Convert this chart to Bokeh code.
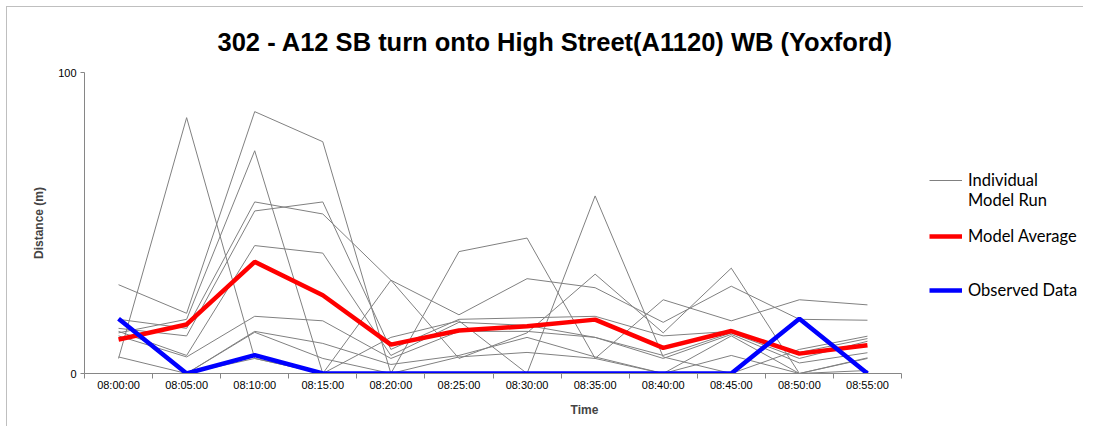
from bokeh.plotting import figure
from bokeh.models import Range1d, FixedTicker, Legend, LegendItem
from bokeh.embed import file_html
from bokeh.resources import INLINE

times = ["08:00:00", "08:05:00", "08:10:00", "08:15:00", "08:20:00", "08:25:00",
         "08:30:00", "08:35:00", "08:40:00", "08:45:00", "08:50:00", "08:55:00"]

run_01 = [29.5, 20, 87, 77, 0, 40.5, 45, 5, 24.5, 17.5, 24.5, 22.8]
run_02 = [5, 85, 5, 0, 31, 5, 13.5, 33, 13.5, 35, 0, 5]
run_03 = [13.5, 18, 74, 0, 12, 17.5, 0, 59, 5.5, 0, 8, 12.4]
run_04 = [18, 15, 57, 53, 31, 19.5, 31.5, 28.5, 17, 29, 18, 17.7]
run_05 = [15, 12.5, 54, 57, 8, 18, 18.5, 19, 12.5, 14, 7, 11.6]
run_06 = [14, 6, 42.5, 40, 6, 17, 16, 12, 6, 13.5, 5, 10.7]
run_07 = [12.5, 5.5, 19, 17.5, 5, 14, 14, 12, 5, 13, 3.5, 6.9]
run_08 = [5.5, 0, 14, 10, 3, 6, 12, 5.5, 0, 12.5, 0, 5.2]
run_09 = [0, 0, 13.7, 5, 0, 5.5, 7, 5, 0, 6, 0, 1]
run_10 = [0, 0, 5, 0, 0, 0, 0, 0, 0, 0, 0, 0]
model_average = [11.3, 16.3, 37.1, 26.0, 9.6, 14.3, 15.7, 17.9, 8.5, 14.1, 6.6, 9.4]
observed_data = [18.2, 0, 6.1, 0, 0, 0, 0, 0, 0, 0, 18.2, 0]

runs = [run_01, run_02, run_03, run_04, run_05, run_06, run_07, run_08, run_09, run_10]
n = len(times)
x = [i + 0.5 for i in range(n)]

# frame spans the legend area too; axis and grid are bounded to the 12 time bands
p = figure(width=1077, height=420,
           x_range=Range1d(0, n * 1000 / 817), y_range=Range1d(0, 100),
           output_backend="svg", toolbar_location=None,
           min_border_left=77, min_border_right=0,
           min_border_top=65, min_border_bottom=54,
           title="302 - A12 SB turn onto High Street(A1120) WB (Yoxford)")
p.styles = {"border-top": "1px solid #bfbfbf", "border-left": "1px solid #bfbfbf",
            "margin-top": "6px", "margin-left": "6px"}
p.outline_line_color = None
p.background_fill_color = "white"
p.border_fill_color = "white"

p.title.text_font = "Liberation Sans"
p.title.text_font_size = "25.5px"
p.title.text_font_style = "bold"
p.title.text_color = "black"
p.title.align = "left"
p.title.offset = 133
p.title.standoff = 34

grey_renderers = []
for r in runs:
    gr = p.line(x, r, line_color="#808080", line_width=1)
    grey_renderers.append(gr)
red = p.line(x, model_average, line_color="#ff0000", line_width=4.5)
blue = p.line(x, observed_data, line_color="#0000ff", line_width=4.5)
blank = p.line([], [], line_alpha=0)

# x axis
xa = p.xaxis[0]
xa.bounds = (0, n)
xa.ticker = FixedTicker(ticks=x, minor_ticks=list(range(n + 1)))
xa.major_label_overrides = {xi: t for xi, t in zip(x, times)}
xa.major_tick_out = 0
xa.major_tick_in = 0
xa.minor_tick_out = 5
xa.minor_tick_in = 0
xa.minor_tick_line_color = "#868686"
xa.axis_line_color = "#868686"
xa.major_label_text_font = "Liberation Sans"
xa.major_label_text_font_size = "11px"
xa.major_label_text_color = "black"
xa.major_label_standoff = 0
xa.axis_label = "Time"
xa.axis_label_text_font = "Liberation Sans"
xa.axis_label_text_font_size = "12px"
xa.axis_label_text_font_style = "bold"
xa.axis_label_standoff = 9

# y axis
ya = p.yaxis[0]
ya.ticker = FixedTicker(ticks=[0, 100])
ya.major_tick_out = 4
ya.major_tick_in = 0
ya.minor_tick_out = 0
ya.minor_tick_in = 0
ya.major_tick_line_color = "#868686"
ya.axis_line_color = "#868686"
ya.major_label_text_font = "Liberation Sans"
ya.major_label_text_font_size = "11px"
ya.major_label_text_color = "black"
ya.major_label_standoff = 4
ya.axis_label = "Distance (m)"
ya.axis_label_text_font = "Liberation Sans"
ya.axis_label_text_font_size = "12px"
ya.axis_label_text_font_style = "bold"
ya.axis_label_standoff = 9

p.xgrid.visible = False
p.ygrid.ticker = FixedTicker(ticks=[100])
p.ygrid.bounds = (0, n)
p.ygrid.grid_line_color = "#d9d9d9"


def make_legend(items, loc):
    lg = Legend(items=items, location=loc)
    lg.border_line_alpha = 0
    lg.background_fill_alpha = 0
    lg.glyph_width = 33
    lg.glyph_height = 20
    lg.label_height = 20
    lg.label_standoff = 6
    lg.label_text_font = "Lato"
    lg.label_text_font_size = "16.5px"
    lg.label_text_color = "black"
    lg.spacing = 0
    lg.padding = 0
    lg.margin = 0
    return lg


leg_runs = make_legend([LegendItem(label="Individual", renderers=[grey_renderers[0]]),
                        LegendItem(label="Model Run", renderers=[blank])], (845, 163))
leg_avg = make_legend([LegendItem(label="Model Average", renderers=[red])], (845, 127))
leg_obs = make_legend([LegendItem(label="Observed Data", renderers=[blue])], (845, 73))
for lg in (leg_runs, leg_avg, leg_obs):
    p.add_layout(lg)

open("out.html", "w").write(file_html(p, INLINE))
